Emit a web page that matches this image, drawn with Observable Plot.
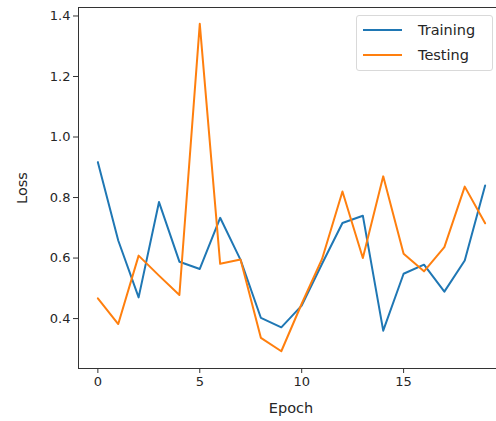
<!DOCTYPE html>
<html>
<head>
<meta charset="utf-8">
<script src="https://cdn.jsdelivr.net/npm/d3@7"></script>
<script src="https://cdn.jsdelivr.net/npm/@observablehq/plot@0.6"></script>
<style>
  html, body { margin: 0; padding: 0; background: #fff; overflow: hidden; }
  #wrap { position: relative; width: 496px; height: 421px; font-family: "DejaVu Sans", sans-serif; }
  .legend { position: absolute; left: 356px; top: 15px; width: 137px; height: 56px; box-sizing: border-box;
            border: 1px solid #d9d9d9; border-radius: 3px; background: rgba(255,255,255,0.85); }
  .legend .row { position: absolute; left: 6px; height: 20px; display: flex; align-items: center; font-size: 14.5px; color: #262626; }
  .legend .row svg { margin-right: 16px; }
</style>
</head>
<body>
<div id="wrap"></div>
<script>
const epochs = d3.range(0, 20);
const training = [0.917, 0.658, 0.470, 0.785, 0.588, 0.564, 0.733, 0.594, 0.402, 0.371,
                  0.443, 0.581, 0.716, 0.740, 0.360, 0.548, 0.578, 0.489, 0.592, 0.840];
const testing  = [0.467, 0.382, 0.608, 0.542, 0.478, 1.374, 0.581, 0.595, 0.336, 0.292,
                  0.449, 0.597, 0.820, 0.600, 0.870, 0.614, 0.556, 0.636, 0.836, 0.715];
const seriesNames = ["Training", "Testing"];
const seriesColors = ["#1f77b4", "#ff7f0e"];
const yTicks = [0.4, 0.6, 0.8, 1.0, 1.2, 1.4];
const xTicks = [0, 5, 10, 15];

const rows = [];
epochs.forEach((e, i) => {
  rows.push({epoch: e, loss: training[i], series: "Training"});
  rows.push({epoch: e, loss: testing[i], series: "Testing"});
});

const chart = Plot.plot({
  width: 496,
  height: 421,
  marginLeft: 78,
  marginRight: -8,
  marginTop: 7,
  marginBottom: 53,
  style: {fontFamily: "DejaVu Sans, sans-serif", fontSize: "13px", color: "#262626", background: "#fff"},
  x: {domain: [-0.95, 19.95], ticks: xTicks, tickSize: 5, tickPadding: 3, label: null},
  y: {domain: [0.235, 1.428], ticks: yTicks, tickFormat: d3.format(".1f"), tickSize: 5, tickPadding: 3, label: null},
  color: {domain: seriesNames, range: seriesColors},
  marks: [
    Plot.frame({stroke: "#333", strokeWidth: 1}),
    Plot.axisX({ticks: xTicks, tickSize: 5, tickPadding: 3, stroke: "#333", fill: "#262626", fontSize: 13}),
    Plot.axisY({ticks: yTicks, tickFormat: d3.format(".1f"), tickSize: 5, tickPadding: 3, stroke: "#333", fill: "#262626", fontSize: 13}),
    Plot.line(rows, {x: "epoch", y: "loss", z: "series", stroke: "series", strokeWidth: 2})
  ]
});

const wrap = document.getElementById("wrap");
wrap.appendChild(chart);

// axis titles
const svg = d3.select(chart);
svg.append("text").attr("x", 291).attr("y", 413).attr("text-anchor", "middle")
  .attr("font-size", 14.5).attr("fill", "#262626").attr("font-family", "DejaVu Sans, sans-serif").text("Epoch");
svg.append("text").attr("transform", "translate(27,188) rotate(-90)").attr("text-anchor", "middle")
  .attr("font-size", 14.5).attr("fill", "#262626").attr("font-family", "DejaVu Sans, sans-serif").text("Loss");

// legend
const lg = document.createElement("div");
lg.className = "legend";
seriesNames.forEach((name, i) => {
  const r = document.createElement("div");
  r.className = "row";
  r.style.top = (4 + i * 25) + "px";
  r.innerHTML = `<svg width="39" height="4"><line x1="0" x2="39" y1="2" y2="2" stroke="${seriesColors[i]}" stroke-width="2"/></svg><span>${name}</span>`;
  lg.appendChild(r);
});
wrap.appendChild(lg);
</script>
</body>
</html>
